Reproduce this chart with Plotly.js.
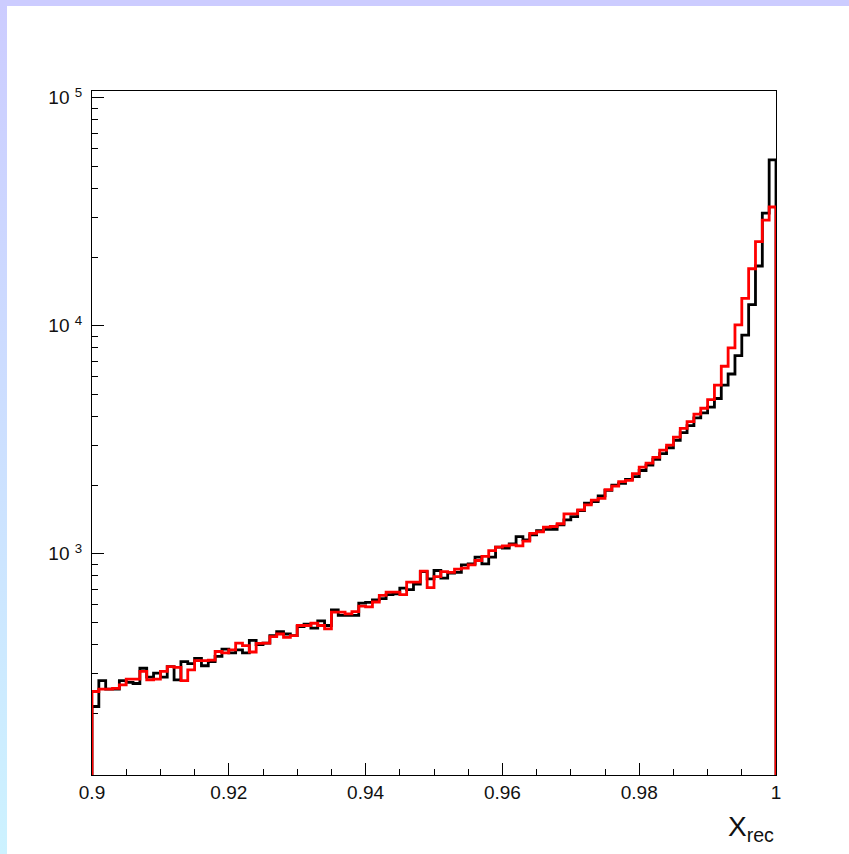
<!DOCTYPE html>
<html>
<head>
<meta charset="utf-8">
<script src="https://cdn.plot.ly/plotly-3.0.1.min.js"></script>
<style>
  html, body { margin: 0; padding: 0; background: #ffffff; overflow: hidden; }
  #leftStrip { position: absolute; left: 0; top: 0; width: 7px; height: 854px;
               background: linear-gradient(to bottom, #ccccff, #ccf2ff); z-index: 0; }
  #topStrip { position: absolute; left: 0; top: 0; width: 849px; height: 6px;
              background: #ccccff; z-index: 0; }
  #chart { position: absolute; left: 0; top: 0; width: 849px; height: 854px; z-index: 1; }
</style>
</head>
<body>
<div id="leftStrip"></div>
<div id="topStrip"></div>
<div id="chart"></div>
<script>
// Histogram binning: 100 bins from 0.9 to 1.0
const xLow = 0.9;
const binWidth = 0.001;

// Black histogram (bin contents)
const blackCounts = [
  214, 278, 255, 255, 278, 273, 270, 315, 288, 300,
  288, 320, 280, 337, 330, 348, 323, 337, 355, 382,
  368, 379, 368, 417, 400, 406, 438, 456, 445, 438,
  480, 491, 472, 508, 485, 568, 537, 537, 537, 608,
  612, 628, 636, 663, 668, 707, 697, 736, 836, 777,
  845, 782, 823, 830, 895, 903, 967, 903, 967, 1070,
  1060, 1106, 1191, 1152, 1212, 1265, 1282, 1282, 1340, 1410,
  1457, 1548, 1668, 1696, 1796, 1900, 2000, 2040, 2120, 2180,
  2320, 2450, 2600, 2750, 2920, 3150, 3400, 3650, 3950, 4150,
  4400, 4800, 5500, 6150, 7400, 9100, 12400, 18300, 31200, 53500
];

// Red histogram (bin contents)
const redCounts = [
  249, 255, 255, 257, 266, 282, 282, 305, 280, 282,
  305, 320, 318, 278, 310, 340, 340, 342, 373, 368,
  379, 406, 396, 371, 405, 406, 433, 445, 430, 438,
  485, 485, 496, 485, 469, 555, 555, 545, 558, 590,
  585, 615, 657, 679, 679, 663, 751, 751, 840, 711,
  795, 836, 830, 857, 866, 895, 935, 975, 1034, 1070,
  1084, 1095, 1084, 1136, 1230, 1250, 1309, 1318, 1355, 1498,
  1498, 1560, 1640, 1720, 1750, 1910, 1980, 2075, 2100, 2250,
  2400, 2500, 2650, 2850, 3000, 3250, 3550, 3800, 4100, 4350,
  4750, 5500, 6650, 8000, 10100, 13200, 17800, 23400, 29100, 33200
];

// Axis tick labels
const xTickVals = [0.9, 0.92, 0.94, 0.96, 0.98, 1.0];
const xTickText = ['0.9', '0.92', '0.94', '0.96', '0.98', '1'];
const yTickVals = [1e3, 1e4, 1e5];
const yTickText = ['10\u00a0<sup>3</sup>', '10\u00a0<sup>4</sup>', '10\u00a0<sup>5</sup>'];

const baseLevel = 1; // draws the histogram outline down to below the axis

function stepOutline(counts) {
  const xs = [xLow];
  const ys = [baseLevel];
  for (let i = 0; i < counts.length; i++) {
    xs.push(Number((xLow + i * binWidth).toFixed(4)));
    ys.push(counts[i]);
  }
  xs.push(Number((xLow + counts.length * binWidth).toFixed(4)));
  ys.push(baseLevel);
  return { x: xs, y: ys };
}

const minorY = [];
[100, 1000, 10000].forEach(function (d) {
  for (let k = 2; k <= 9; k++) minorY.push(k * d);
});

const bk = stepOutline(blackCounts);
const rd = stepOutline(redCounts);

const traces = [
  { type: 'scatter', mode: 'lines', x: bk.x, y: bk.y,
    line: { shape: 'hv', color: '#000000', width: 2.8 }, hoverinfo: 'skip' },
  { type: 'scatter', mode: 'lines', x: rd.x, y: rd.y,
    line: { shape: 'hv', color: '#ff0000', width: 2.8 }, hoverinfo: 'skip' }
];

const fontFam = '"Liberation Sans Narrow", "Liberation Sans", Arial, sans-serif';
const tickFont = { family: fontFam, size: 19, color: '#111111' };

const layout = {
  width: 849,
  height: 854,
  margin: { l: 92, r: 73, t: 91, b: 79, pad: 0 },
  paper_bgcolor: 'rgba(0,0,0,0)',
  plot_bgcolor: '#ffffff',
  showlegend: false,
  font: { family: fontFam, size: 19, color: '#111111' },
  xaxis: {
    range: [0.9, 1.0],
    tickmode: 'array', tickvals: xTickVals, ticktext: xTickText,
    ticks: 'inside', ticklen: 12, tickwidth: 1, tickcolor: '#000000',
    minor: { tickmode: 'linear', tick0: 0.9, dtick: 0.005, ticks: 'inside', ticklen: 6, tickwidth: 1, tickcolor: '#000000', showgrid: false },
    showline: true, linecolor: '#000000', linewidth: 1, mirror: true,
    showgrid: false, zeroline: false,
    tickfont: tickFont, ticklabelstandoff: 0,
    layer: 'below traces'
  },
  yaxis: {
    type: 'log',
    range: [2.03, 5.03],
    tickmode: 'array', tickvals: yTickVals, ticktext: yTickText,
    ticks: 'inside', ticklen: 12, tickwidth: 1, tickcolor: '#000000',
    minor: { tickmode: 'array', tickvals: minorY, ticks: 'inside', ticklen: 6, tickwidth: 1, tickcolor: '#000000', showgrid: false },
    showline: true, linecolor: '#000000', linewidth: 1, mirror: true,
    showgrid: false, zeroline: false,
    tickfont: tickFont, ticklabelstandoff: 5,
    layer: 'below traces'
  },
  annotations: [
    { xref: 'paper', yref: 'paper', x: 1, y: -0.05, xanchor: 'right', yanchor: 'top',
      showarrow: false, text: 'X<sub>rec</sub>',
      font: { family: fontFam, size: 28, color: '#111111' } }
  ]
};

Plotly.newPlot('chart', traces, layout, { displayModeBar: false, staticPlot: true });
</script>
</body>
</html>
